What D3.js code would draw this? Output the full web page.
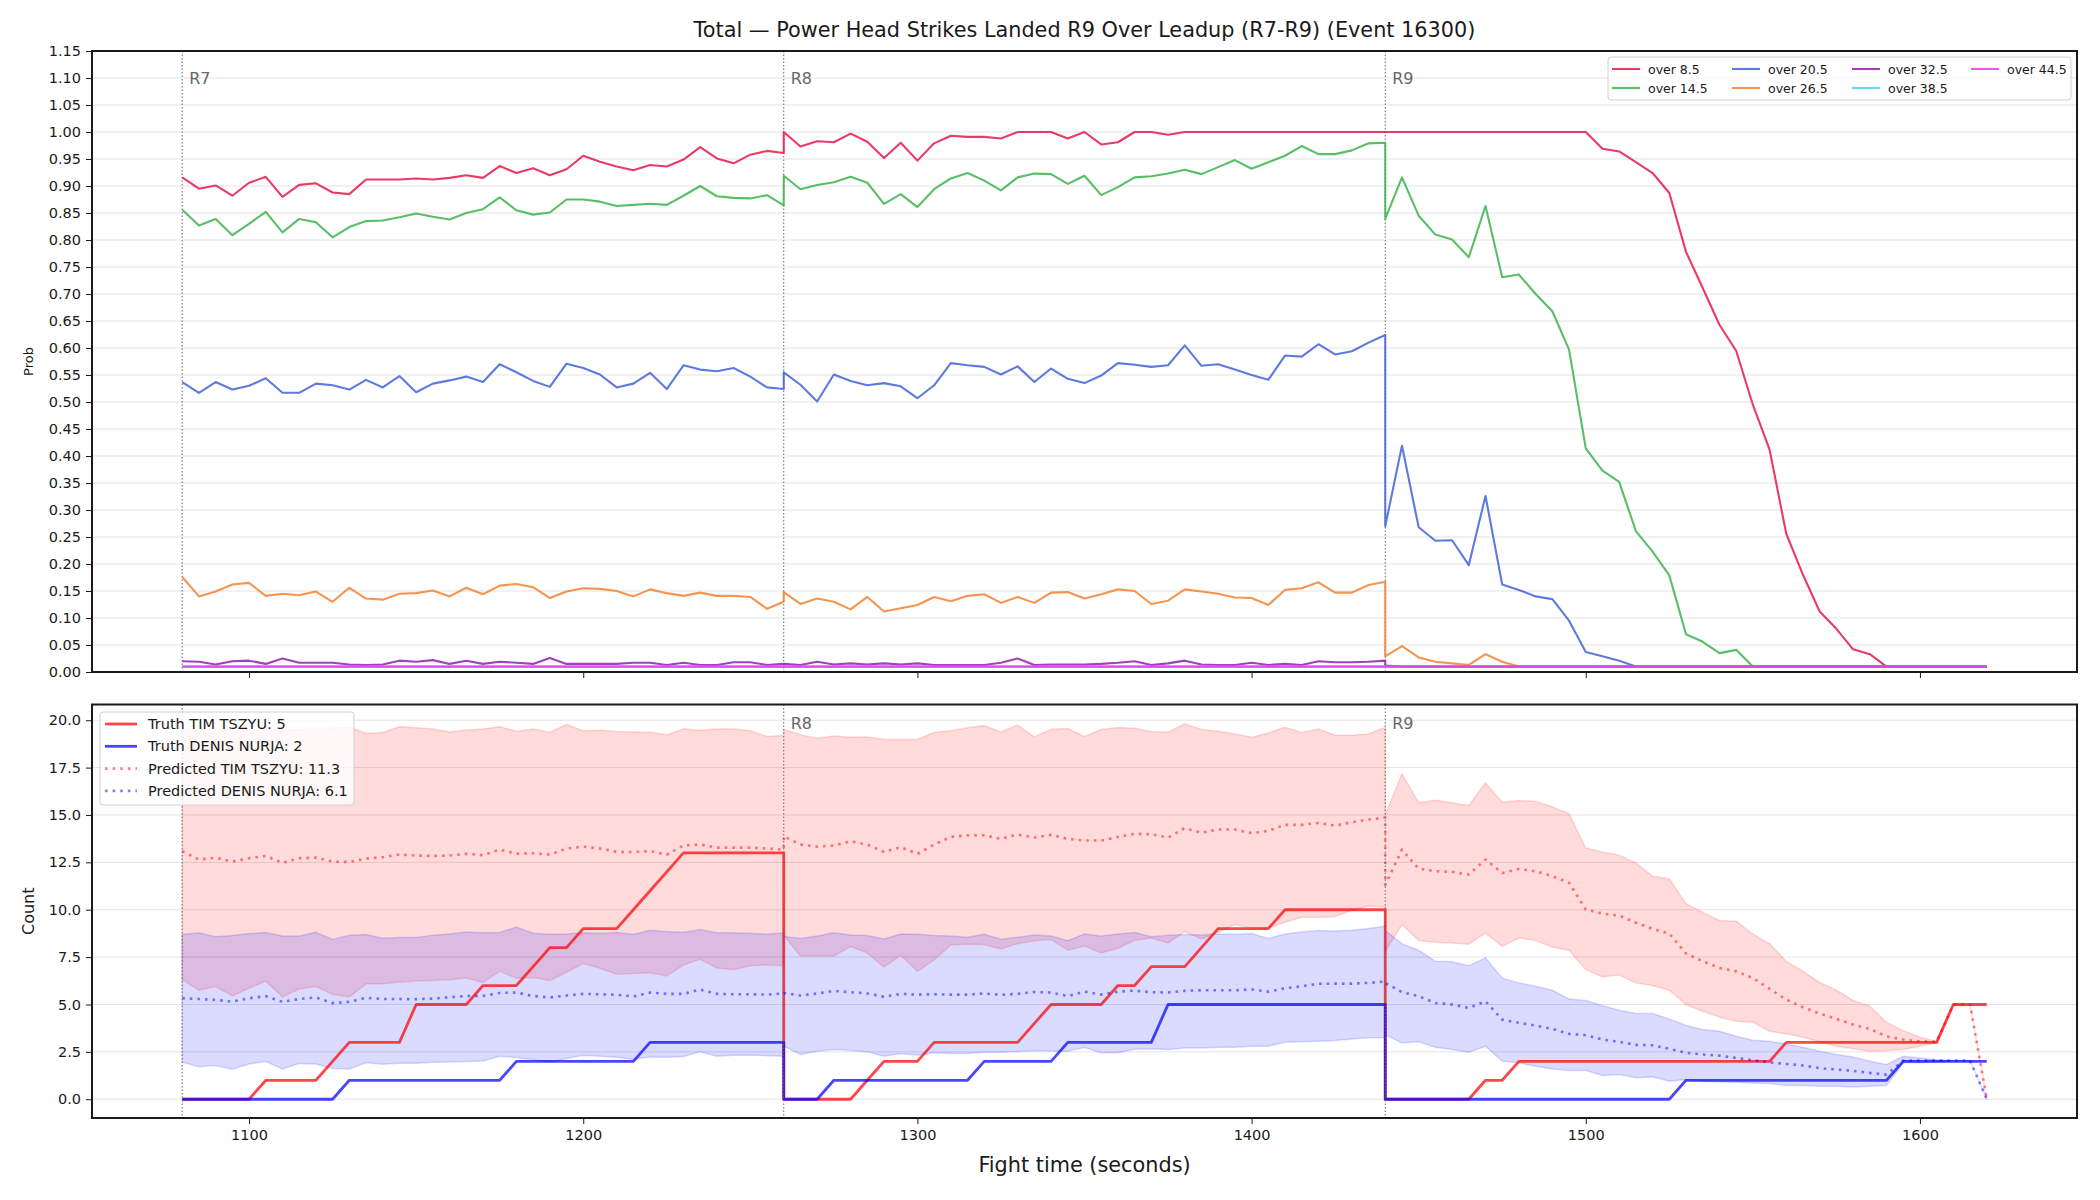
<!DOCTYPE html>
<html>
<head>
<meta charset="utf-8">
<script src="https://cdn.jsdelivr.net/npm/d3@7"></script>
<style>
  body { margin: 0; background: #fff; }
  text { font-family: "DejaVu Sans", sans-serif; }
</style>
</head>
<body>
<svg id="chart" width="2100" height="1200"></svg>
<script>
// ---- data ----
var roundStarts = [1080, 1260, 1440];
var roundNames = ["R7", "R8", "R9"];
var pointsPerRound = 37, stepSec = 5;

var probTicks = [0, 0.05, 0.1, 0.15, 0.2, 0.25, 0.3, 0.35, 0.4, 0.45, 0.5, 0.55, 0.6, 0.65, 0.7, 0.75, 0.8, 0.85, 0.9, 0.95, 1.0, 1.05, 1.1, 1.15];
var countTicks = [0, 2.5, 5, 7.5, 10, 12.5, 15, 17.5, 20];
var timeTicks = [1100, 1200, 1300, 1400, 1500, 1600];

var lineNames = ["over 8.5", "over 14.5", "over 20.5", "over 26.5", "over 32.5", "over 38.5", "over 44.5"];
var lineColors = ["#e6194b", "#3cb44b", "#4363d8", "#f58231", "#911eb4", "#42d4f4", "#f032e6"];

var over8_5 = [
  .916,.895,.901,.882,.906,.917,.880,.902,.905,.888,.885,.912,.912,.912,.914,.912,.915,.920,.915,.937,.924,.933,.920,.931,.956,.945,.936,.929,.939,.936,.949,.972,.951,.942,.958,.965,.961,
  1.00,.973,.983,.981,.997,.982,.952,.980,.947,.979,.993,.991,.991,.988,1.00,1.00,1.00,.988,1.00,.977,.981,1.00,1.00,.995,1.00,1.00,1.00,1.00,1.00,1.00,1.00,1.00,1.00,1.00,1.00,1.00,1.00,
  1.00,1.00,1.00,1.00,1.00,1.00,1.00,1.00,1.00,1.00,1.00,1.00,1.00,.969,.964,.944,.924,.887,.778,.711,.643,.595,.495,.412,.256,.180,.112,.080,.042,.033,.01,.01,.01,.01,.01,.01,.01
];
var over14_5 = [
  .856,.827,.839,.809,.830,.852,.814,.839,.833,.805,.824,.835,.836,.842,.849,.843,.838,.850,.857,.879,.855,.847,.851,.875,.875,.871,.863,.865,.867,.865,.882,.900,.881,.878,.877,.883,.864,
  .919,.894,.902,.907,.917,.906,.867,.885,.861,.894,.914,.924,.910,.892,.916,.923,.922,.904,.919,.883,.898,.916,.918,.923,.930,.922,.935,.948,.932,.944,.956,.974,.959,.959,.966,.979,.980,
  .839,.916,.845,.810,.801,.768,.863,.731,.736,.700,.668,.597,.414,.373,.352,.261,.223,.179,.070,.056,.035,.041,.01,.01,.01,.01,.01,.01,.01,.01,.01,.01,.01,.01,.01,.01,.01
];
var over20_5 = [
  .537,.517,.537,.523,.530,.544,.517,.517,.534,.531,.523,.541,.527,.548,.518,.534,.540,.547,.537,.570,.555,.539,.528,.571,.563,.551,.527,.534,.554,.524,.568,.560,.557,.563,.547,.527,.524,
  .555,.532,.501,.551,.539,.531,.535,.529,.507,.531,.572,.568,.565,.551,.566,.537,.562,.543,.535,.549,.572,.569,.565,.568,.605,.567,.570,.560,.550,.541,.586,.584,.607,.588,.594,.610,.624,
  .270,.419,.268,.243,.244,.198,.326,.162,.152,.140,.135,.095,.037,.029,.021,.01,.01,.01,.01,.01,.01,.01,.01,.01,.01,.01,.01,.01,.01,.01,.01,.01,.01,.01,.01,.01,.01
];
var over26_5 = [
  .176,.140,.149,.162,.165,.141,.145,.142,.149,.130,.156,.136,.134,.145,.146,.151,.140,.156,.144,.160,.163,.157,.137,.149,.155,.154,.150,.140,.153,.146,.141,.147,.141,.141,.139,.117,.130,
  .148,.126,.136,.130,.116,.139,.112,.118,.124,.139,.131,.141,.144,.128,.139,.128,.147,.148,.136,.144,.153,.150,.126,.132,.153,.149,.145,.138,.137,.124,.152,.155,.166,.147,.147,.161,.167,
  .029,.048,.027,.019,.016,.013,.033,.019,.01,.01,.01,.01,.01,.01,.01,.01,.01,.01,.01,.01,.01,.01,.01,.01,.01,.01,.01,.01,.01,.01,.01,.01,.01,.01,.01,.01,.01
];
var over32_5 = [
  .020,.019,.014,.020,.021,.015,.025,.017,.017,.017,.014,.013,.014,.021,.019,.022,.015,.021,.015,.019,.017,.015,.026,.015,.015,.015,.015,.017,.017,.013,.017,.013,.013,.018,.018,.013,.015,
  .015,.013,.019,.014,.016,.014,.016,.014,.016,.013,.013,.013,.013,.017,.025,.013,.014,.014,.014,.015,.017,.020,.013,.016,.021,.014,.013,.013,.017,.013,.015,.013,.020,.018,.018,.019,.021,
  .012,.01,.01,.01,.01,.01,.01,.01,.01,.01,.01,.01,.01,.01,.01,.01,.01,.01,.01,.01,.01,.01,.01,.01,.01,.01,.01,.01,.01,.01,.01,.01,.01,.01,.01,.01,.01
];
var over38_5 = [
  .01,.01,.01,.01,.01,.01,.01,.01,.01,.01,.01,.01,.01,.01,.01,.01,.01,.01,.01,.01,.01,.01,.01,.01,.01,.01,.01,.01,.01,.01,.01,.01,.01,.01,.01,.01,.01,
  .01,.01,.01,.01,.01,.01,.01,.01,.01,.01,.01,.01,.01,.01,.01,.01,.01,.01,.01,.01,.01,.01,.01,.01,.01,.01,.01,.01,.01,.01,.01,.01,.01,.01,.01,.01,.01,
  .01,.01,.01,.01,.01,.01,.01,.01,.01,.01,.01,.01,.01,.01,.01,.01,.01,.01,.01,.01,.01,.01,.01,.01,.01,.01,.01,.01,.01,.01,.01,.01,.01,.01,.01,.01,.01
];
var over44_5 = [
  .01,.01,.01,.01,.01,.01,.01,.01,.01,.01,.01,.01,.01,.01,.01,.01,.01,.01,.01,.01,.01,.01,.01,.01,.01,.01,.01,.01,.01,.01,.01,.01,.01,.01,.01,.01,.01,
  .01,.01,.01,.01,.01,.01,.01,.01,.01,.01,.01,.01,.01,.01,.01,.01,.01,.01,.01,.01,.01,.01,.01,.01,.01,.01,.01,.01,.01,.01,.01,.01,.01,.01,.01,.01,.01,
  .01,.01,.01,.01,.01,.01,.01,.01,.01,.01,.01,.01,.01,.01,.01,.01,.01,.01,.01,.01,.01,.01,.01,.01,.01,.01,.01,.01,.01,.01,.01,.01,.01,.01,.01,.01,.01
];

// bottom panel: truth counts, predictions and bands
var truthTim = [
  0,0,0,0,0,1,1,1,1,2,3,3,3,3,5,5,5,5,6,6,6,7,8,8,9,9,9,10,11,12,13,13,13,13,13,13,13,
  0,0,0,0,0,1,2,2,2,3,3,3,3,3,3,4,5,5,5,5,6,6,7,7,7,8,9,9,9,9,10,10,10,10,10,10,10,
  0,0,0,0,0,0,1,1,2,2,2,2,2,2,2,2,2,2,2,2,2,2,2,2,3,3,3,3,3,3,3,3,3,3,5,5,5
];
var truthDenis = [
  0,0,0,0,0,0,0,0,0,0,1,1,1,1,1,1,1,1,1,1,2,2,2,2,2,2,2,2,3,3,3,3,3,3,3,3,3,
  0,0,0,1,1,1,1,1,1,1,1,1,2,2,2,2,2,3,3,3,3,3,3,5,5,5,5,5,5,5,5,5,5,5,5,5,5,
  0,0,0,0,0,0,0,0,0,0,0,0,0,0,0,0,0,0,1,1,1,1,1,1,1,1,1,1,1,1,1,2,2,2,2,2,2
];
var predTim = [
  13.09,12.65,12.74,12.54,12.72,12.84,12.47,12.72,12.75,12.54,12.52,12.70,12.77,12.91,12.86,12.84,12.86,12.95,12.88,13.17,12.96,12.98,12.91,13.23,13.33,13.23,13.05,13.05,13.09,12.91,13.39,13.44,13.28,13.28,13.28,13.23,13.17,
  13.88,13.44,13.33,13.39,13.61,13.44,13.05,13.30,12.95,13.44,13.84,13.93,13.93,13.74,13.97,13.81,13.95,13.74,13.65,13.65,13.84,14.00,13.98,13.81,14.30,14.07,14.23,14.23,14.04,14.16,14.48,14.48,14.58,14.44,14.62,14.76,14.86,
  11.3,13.17,12.17,12.03,12.00,11.86,12.65,11.94,12.15,12.03,11.77,11.42,10.01,9.80,9.69,9.31,8.99,8.74,7.69,7.28,6.93,6.75,6.40,5.82,5.26,4.85,4.52,4.24,3.94,3.71,3.32,3.15,3.06,3.03,5.0,5.0,0
];
var predDenis = [
  5.33,5.29,5.24,5.15,5.33,5.44,5.14,5.29,5.37,5.07,5.14,5.35,5.29,5.29,5.28,5.31,5.38,5.45,5.45,5.61,5.63,5.45,5.37,5.47,5.56,5.54,5.51,5.42,5.63,5.56,5.56,5.79,5.56,5.54,5.54,5.52,5.58,
  5.61,5.47,5.58,5.72,5.65,5.58,5.40,5.56,5.52,5.54,5.52,5.52,5.58,5.51,5.56,5.66,5.63,5.44,5.68,5.52,5.68,5.73,5.65,5.63,5.72,5.75,5.75,5.75,5.79,5.68,5.86,5.96,6.09,6.10,6.10,6.14,6.21,
  6.14,5.65,5.44,5.08,5.00,4.82,5.17,4.20,4.03,3.89,3.71,3.45,3.38,3.15,3.03,2.87,2.85,2.66,2.45,2.36,2.30,2.18,2.06,1.95,1.86,1.78,1.64,1.57,1.50,1.39,1.30,2.04,2.04,2.04,2.04,2.04,0
];
var timHi = [
  19.51,19.54,19.44,19.56,19.49,19.56,19.45,19.51,19.54,19.58,19.63,19.30,19.35,19.65,19.60,19.54,19.38,19.49,19.54,19.65,19.42,19.54,19.37,19.77,19.45,19.47,19.40,19.38,19.37,19.23,19.54,19.47,19.54,19.54,19.44,19.14,19.19,
  19.51,19.24,19.05,19.17,19.10,19.12,18.98,18.98,18.98,19.35,19.44,19.60,19.72,19.38,19.74,19.12,19.53,19.56,19.14,19.51,19.61,19.58,19.40,19.37,19.81,19.51,19.42,19.28,19.10,19.33,19.63,19.35,19.54,19.21,19.21,19.28,19.63,
  15.0,17.17,15.64,15.78,15.64,15.50,16.69,15.67,15.76,15.71,15.43,15.07,13.26,13.05,12.88,12.47,11.77,11.63,10.31,9.87,9.43,9.39,8.72,8.21,7.28,6.75,6.17,5.75,5.21,4.91,4.06,3.62,3.27,3.06,5.0,5.0,0
];
var timLo = [
  6.31,5.75,5.95,5.45,5.86,6.23,5.40,5.82,5.95,5.54,5.40,6.09,6.09,6.17,6.24,6.26,6.31,6.40,6.16,6.75,6.39,6.42,6.26,6.70,7.16,6.91,6.60,6.63,6.67,6.51,7.09,7.39,6.93,6.84,7.04,7.09,7.05,
  8.65,7.56,7.56,7.56,8.06,7.72,6.97,7.60,6.75,7.35,8.14,8.18,8.16,7.93,8.21,8.36,8.43,7.86,8.09,7.72,7.97,8.39,8.51,8.25,8.85,8.46,8.81,9.22,9.04,9.04,9.34,9.60,9.60,9.64,9.97,10.20,10.15,
  7.8,9.22,8.37,8.28,8.25,8.18,8.78,8.07,8.51,8.37,8.02,7.86,6.84,6.46,6.56,6.14,6.00,5.75,5.00,4.64,4.34,4.12,4.06,3.59,3.45,3.27,3.03,2.80,2.66,2.53,2.57,2.62,2.80,2.97,5.0,5.0,0
];
var denisHi = [
  8.69,8.78,8.58,8.64,8.74,8.80,8.62,8.62,8.81,8.43,8.66,8.69,8.50,8.53,8.53,8.66,8.72,8.83,8.78,8.80,9.09,8.76,8.71,8.72,8.78,8.76,8.80,8.71,8.92,8.85,8.81,8.95,8.78,8.78,8.76,8.71,8.78,
  8.60,8.48,8.62,8.78,8.67,8.64,8.46,8.72,8.71,8.64,8.62,8.55,8.71,8.44,8.55,8.67,8.62,8.37,8.72,8.62,8.72,8.80,8.58,8.66,8.69,8.67,8.72,8.71,8.74,8.48,8.72,8.83,8.90,8.88,8.92,9.01,9.13,
  8.9,8.21,7.86,7.28,7.26,7.05,7.46,6.39,6.14,5.96,5.75,5.29,5.21,4.94,4.70,4.52,4.52,4.24,3.89,3.68,3.59,3.32,3.11,3.06,2.92,2.74,2.53,2.36,2.23,2.01,1.83,2.27,2.18,2.09,2.04,2.04,0
];
var denisLo = [
  1.95,1.72,1.78,1.58,1.86,1.99,1.60,1.88,1.86,1.62,1.60,1.92,1.85,1.90,1.90,1.95,1.97,1.99,2.02,2.27,2.20,2.09,1.95,2.15,2.32,2.27,2.22,2.11,2.23,2.22,2.25,2.50,2.27,2.32,2.32,2.30,2.27,
  2.80,2.36,2.53,2.62,2.57,2.50,2.27,2.41,2.32,2.45,2.41,2.41,2.48,2.48,2.52,2.57,2.55,2.53,2.73,2.45,2.45,2.64,2.66,2.62,2.71,2.71,2.74,2.74,2.80,2.80,3.01,3.03,3.06,3.10,3.18,3.24,3.24,
  3.41,2.97,3.03,2.74,2.62,2.48,2.80,2.01,1.92,1.74,1.60,1.51,1.51,1.25,1.30,1.13,1.18,0.95,1.04,0.95,0.91,0.90,0.86,0.83,0.72,0.72,0.69,0.69,0.65,0.69,0.72,1.92,1.92,1.95,2.04,2.04,0
];

var times = [];
roundStarts.forEach(function(s){
  for (var i = 0; i < pointsPerRound; i++) times.push(s + i * stepSec);
});

// ---- layout ----
var svg = d3.select("#chart");
var plotL = 92, plotR = 2077;
var p1 = {top: 51, bottom: 672};
var p2 = {top: 704.5, bottom: 1118};
var ink = "#1a1a1a";
var tickFont = "14.5px";

var x = d3.scaleLinear().domain([1053, 1647]).range([plotL, plotR]);
var yP = d3.scaleLinear().domain([0, 1.15]).range([p1.bottom, p1.top]);
var yC = d3.scaleLinear().domain([-0.99, 20.83]).range([p2.bottom, p2.top]);

svg.append("rect").attr("width", 2100).attr("height", 1200).attr("fill", "#fff");

svg.append("text")
  .attr("x", (plotL + plotR) / 2).attr("y", 30)
  .attr("text-anchor", "middle").attr("dominant-baseline", "central")
  .style("font-size", "20.8px").attr("fill", ink)
  .text("Total \u2014 Power Head Strikes Landed R9 Over Leadup (R7-R9) (Event 16300)");

var defs = svg.append("defs");
[["clip1", p1], ["clip2", p2]].forEach(function(c){
  defs.append("clipPath").attr("id", c[0]).append("rect")
    .attr("x", plotL).attr("y", c[1].top)
    .attr("width", plotR - plotL).attr("height", c[1].bottom - c[1].top);
});

function drawGrid(g, y, ticks){
  g.selectAll(".grid").data(ticks).enter().append("line")
    .attr("x1", plotL).attr("x2", plotR)
    .attr("y1", function(d){ return y(d); }).attr("y2", function(d){ return y(d); })
    .attr("stroke", "#e3e3e3").attr("stroke-width", 1);
}

// vertical round markers; the first label is skipped where a legend sits on it
function drawRounds(g, panel, labelY, skipFirstLabel){
  roundStarts.forEach(function(s, i){
    g.append("line")
      .attr("x1", x(s)).attr("x2", x(s))
      .attr("y1", panel.top).attr("y2", panel.bottom)
      .attr("stroke", "#666").attr("stroke-width", 1)
      .attr("stroke-dasharray", "1.5,2");
    if (skipFirstLabel && i === 0) return;
    g.append("text")
      .attr("x", x(s) + 7).attr("y", labelY)
      .attr("dominant-baseline", "central")
      .style("font-size", "16px").attr("fill", "#666")
      .text(roundNames[i]);
  });
}

function styleAxis(g){
  g.select(".domain").remove();
  g.selectAll(".tick line").attr("stroke", ink).attr("stroke-width", 1);
  g.selectAll(".tick text").attr("fill", ink).style("font-size", tickFont)
    .style("font-family", "DejaVu Sans, sans-serif");
}

// ---- top panel ----
var g1 = svg.append("g");
drawGrid(g1, yP, probTicks);
drawRounds(g1, p1, yP(1.1), false);

var probLine = d3.line()
  .x(function(d){ return x(d.t); })
  .y(function(d){ return yP(d.v); });

var probSeries = [over8_5, over14_5, over20_5, over26_5, over32_5, over38_5, over44_5];
var lines1 = g1.append("g").attr("clip-path", "url(#clip1)");
probSeries.forEach(function(vals, k){
  lines1.append("path")
    .datum(vals.map(function(v, i){ return {t: times[i], v: v}; }))
    .attr("d", probLine)
    .attr("fill", "none")
    .attr("stroke", lineColors[k]).attr("stroke-opacity", 0.85)
    .attr("stroke-width", 2.1).attr("stroke-linejoin", "round");
});

g1.append("g").attr("transform", "translate(" + plotL + ",0)")
  .call(d3.axisLeft(yP).tickValues(probTicks).tickFormat(d3.format(".2f")).tickSize(6).tickPadding(5))
  .call(styleAxis);
g1.append("g").attr("transform", "translate(0," + p1.bottom + ")")
  .call(d3.axisBottom(x).tickValues(timeTicks).tickFormat("").tickSize(6))
  .call(styleAxis);

g1.append("rect").attr("x", plotL).attr("y", p1.top)
  .attr("width", plotR - plotL).attr("height", p1.bottom - p1.top)
  .attr("fill", "none").attr("stroke", ink).attr("stroke-width", 2);

g1.append("text")
  .attr("transform", "translate(28," + ((p1.top + p1.bottom) / 2) + ") rotate(-90)")
  .attr("text-anchor", "middle").attr("dominant-baseline", "central")
  .style("font-size", "13px").attr("fill", ink).text("Prob");

// top legend (4 columns, filled column by column)
var leg1 = g1.append("g");
leg1.append("rect").attr("x", 1608).attr("y", 57).attr("width", 463).attr("height", 43)
  .attr("rx", 3).attr("fill", "#fff").attr("fill-opacity", 0.8)
  .attr("stroke", "#d0d0d0").attr("stroke-width", 1);
var legColX = [1612, 1732, 1852, 1971], legRowY = [69, 88];
lineNames.forEach(function(name, k){
  var cx = legColX[Math.floor(k / 2)], cy = legRowY[k % 2];
  leg1.append("line").attr("x1", cx).attr("x2", cx + 28).attr("y1", cy).attr("y2", cy)
    .attr("stroke", lineColors[k]).attr("stroke-opacity", 0.85).attr("stroke-width", 2.1);
  leg1.append("text").attr("x", cx + 36).attr("y", cy).attr("dominant-baseline", "central")
    .style("font-size", "12.5px").attr("fill", ink).text(name);
});

// ---- bottom panel ----
var g2 = svg.append("g");
drawGrid(g2, yC, countTicks);

var rows = times.map(function(t, i){
  return {t: t, tim: truthTim[i], denis: truthDenis[i], pTim: predTim[i], pDenis: predDenis[i],
          tHi: timHi[i], tLo: timLo[i], dHi: denisHi[i], dLo: denisLo[i]};
});

var plot2 = g2.append("g").attr("clip-path", "url(#clip2)");
function band(lo, hi, color){
  var area = d3.area().x(function(d){ return x(d.t); })
    .y0(function(d){ return yC(d[lo]); }).y1(function(d){ return yC(d[hi]); });
  plot2.append("path").datum(rows).attr("d", area)
    .attr("fill", color).attr("fill-opacity", 0.14)
    .attr("stroke", color).attr("stroke-opacity", 0.14).attr("stroke-width", 1.5);
}
band("tLo", "tHi", "#ff0000");
band("dLo", "dHi", "#0000ff");

function countLine(key, color, opacity, dotted){
  var line = d3.line().x(function(d){ return x(d.t); }).y(function(d){ return yC(d[key]); });
  var p = plot2.append("path").datum(rows).attr("d", line)
    .attr("fill", "none").attr("stroke", color).attr("stroke-opacity", opacity)
    .attr("stroke-width", dotted ? 2.6 : 2.8).attr("stroke-linejoin", "round");
  if (dotted) p.attr("stroke-dasharray", "2.6,5");
  return p;
}
countLine("tim", "#ff0000", 0.72, false);
countLine("denis", "#0000ff", 0.72, false);
countLine("pTim", "#ff0000", 0.5, true);
countLine("pDenis", "#0000ff", 0.5, true);

drawRounds(g2, p2, yC(19.85), true);

g2.append("g").attr("transform", "translate(" + plotL + ",0)")
  .call(d3.axisLeft(yC).tickValues(countTicks).tickFormat(d3.format(".1f")).tickSize(6).tickPadding(5))
  .call(styleAxis);
g2.append("g").attr("transform", "translate(0," + p2.bottom + ")")
  .call(d3.axisBottom(x).tickValues(timeTicks).tickFormat(d3.format("d")).tickSize(6).tickPadding(6))
  .call(styleAxis);

g2.append("rect").attr("x", plotL).attr("y", p2.top)
  .attr("width", plotR - plotL).attr("height", p2.bottom - p2.top)
  .attr("fill", "none").attr("stroke", ink).attr("stroke-width", 2);

g2.append("text")
  .attr("transform", "translate(28," + ((p2.top + p2.bottom) / 2) + ") rotate(-90)")
  .attr("text-anchor", "middle").attr("dominant-baseline", "central")
  .style("font-size", "16px").attr("fill", ink).text("Count");

svg.append("text")
  .attr("x", (plotL + plotR) / 2).attr("y", 1165)
  .attr("text-anchor", "middle").attr("dominant-baseline", "central")
  .style("font-size", "20.8px").attr("fill", ink).text("Fight time (seconds)");

// bottom legend
var legItems = [
  {label: "Truth TIM TSZYU: 5", color: "#ff0000", op: 0.72, dotted: false},
  {label: "Truth DENIS NURJA: 2", color: "#0000ff", op: 0.72, dotted: false},
  {label: "Predicted TIM TSZYU: 11.3", color: "#ff0000", op: 0.5, dotted: true},
  {label: "Predicted DENIS NURJA: 6.1", color: "#0000ff", op: 0.5, dotted: true}
];
var leg2 = g2.append("g");
leg2.append("rect").attr("x", 100).attr("y", 712).attr("width", 254).attr("height", 93)
  .attr("rx", 3).attr("fill", "#fff").attr("fill-opacity", 0.8)
  .attr("stroke", "#d0d0d0").attr("stroke-width", 1);
legItems.forEach(function(it, k){
  var cy = 724 + k * 22.3;
  var l = leg2.append("line").attr("x1", 105).attr("x2", 137).attr("y1", cy).attr("y2", cy)
    .attr("stroke", it.color).attr("stroke-opacity", it.op).attr("stroke-width", it.dotted ? 2.6 : 2.8);
  if (it.dotted) l.attr("stroke-dasharray", "2.6,5");
  leg2.append("text").attr("x", 148).attr("y", cy).attr("dominant-baseline", "central")
    .style("font-size", "14.5px").attr("fill", ink).text(it.label);
});
</script>
</body>
</html>
